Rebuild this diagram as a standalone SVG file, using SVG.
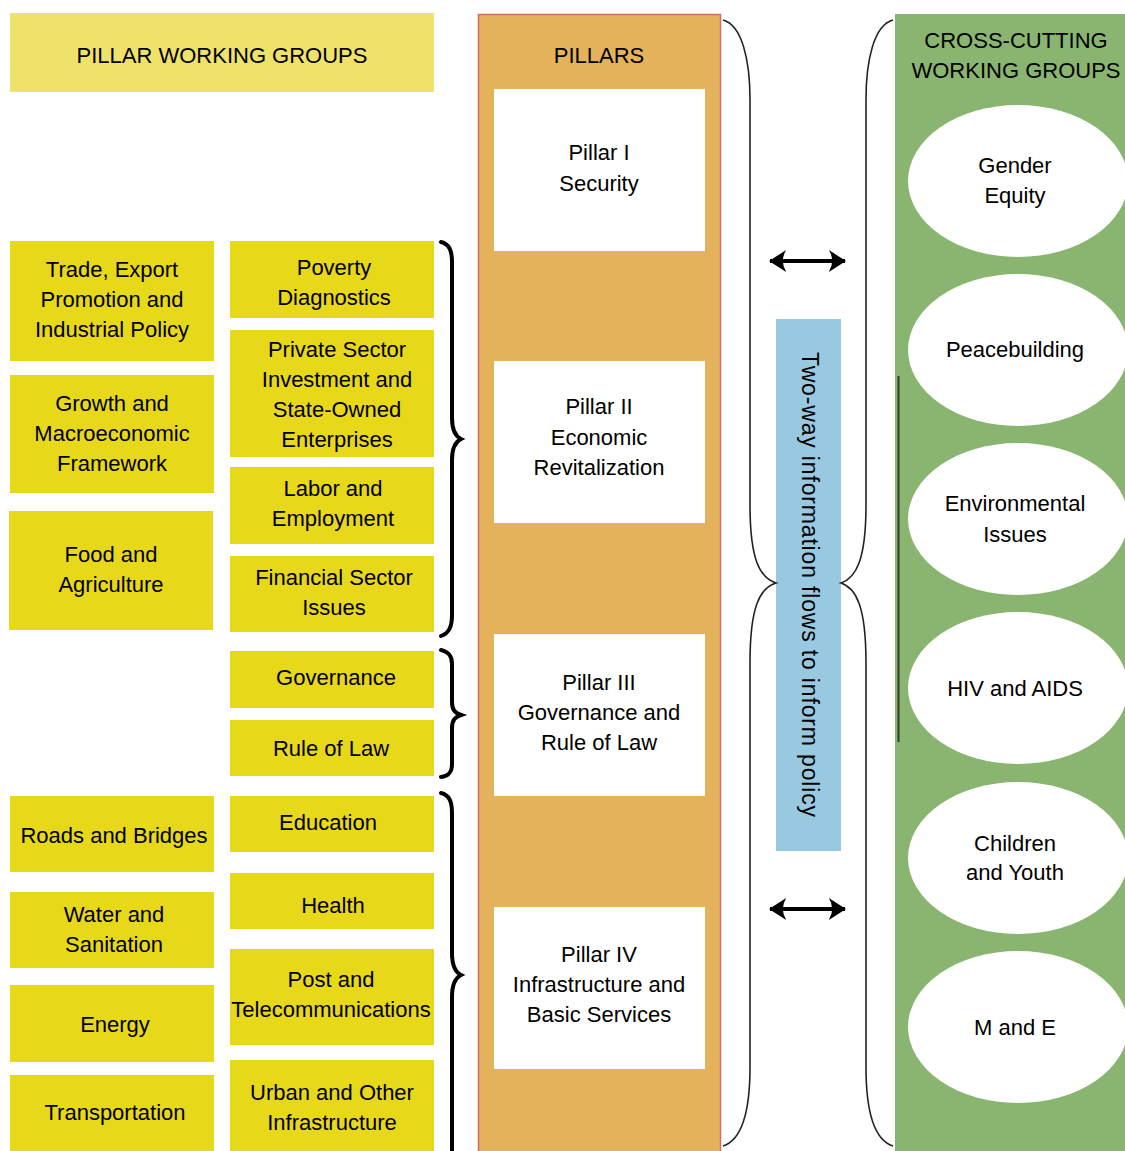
<svg xmlns="http://www.w3.org/2000/svg" width="1125" height="1151" viewBox="0 0 1125 1151">
<style>
text{font-family:"Liberation Sans",Arial,sans-serif;font-size:22px;fill:#000;text-anchor:middle}
.y{fill:#E8D81A}
.w{fill:#fff}
.br{fill:none;stroke:#000;stroke-width:4;stroke-linecap:round}
.tb{fill:none;stroke:#222;stroke-width:1.6}
.ar{fill:none;stroke:#000;stroke-width:4}
</style>
<defs>
<marker id="ah" viewBox="0 0 20 24" refX="19" refY="12" markerWidth="19" markerHeight="23" markerUnits="userSpaceOnUse" orient="auto-start-reverse">
<path d="M20,12 L2,0.5 Q9,12 2,23.5 Z" fill="#000"/>
</marker>
</defs>
<rect width="1125" height="1151" fill="#fff"/>

<g id="header-left"><rect x="10" y="13" width="424" height="79" fill="#EEE26A"/><text x="222" y="63">PILLAR WORKING GROUPS</text></g>

<g id="pillars-col"><rect x="478.5" y="14.5" width="242" height="1140" fill="#E3B25A" stroke="#D46A6A" stroke-width="1.5"/><text x="599" y="63">PILLARS</text></g>

<g id="cross-col"><rect x="895" y="14" width="230" height="1137" fill="#8AB570"/><text x="1016" y="48">CROSS-CUTTING</text><text x="1016" y="78">WORKING GROUPS</text></g>

<g id="trade"><rect class="y" x="10" y="241" width="204" height="120"/><text x="112" y="277">Trade, Export</text><text x="112" y="307">Promotion and</text><text x="112" y="337">Industrial Policy</text></g>
<g id="growth"><rect class="y" x="10" y="375" width="204" height="118"/><text x="112" y="411">Growth and</text><text x="112" y="441">Macroeconomic</text><text x="112" y="471">Framework</text></g>
<g id="food"><rect class="y" x="9" y="511" width="204" height="119"/><text x="111" y="562">Food and</text><text x="111" y="592">Agriculture</text></g>
<g id="roads"><rect class="y" x="10" y="796" width="204" height="76"/><text x="114" y="843">Roads and Bridges</text></g>
<g id="water"><rect class="y" x="10" y="892" width="204" height="76"/><text x="114" y="922">Water and</text><text x="114" y="952">Sanitation</text></g>
<g id="energy"><rect class="y" x="10" y="985" width="204" height="77"/><text x="115" y="1032">Energy</text></g>
<g id="transport"><rect class="y" x="10" y="1075" width="204" height="76"/><text x="115" y="1120">Transportation</text></g>

<g id="poverty"><rect class="y" x="230" y="241" width="204" height="77"/><text x="334" y="275">Poverty</text><text x="334" y="305">Diagnostics</text></g>
<g id="private"><rect class="y" x="230" y="330" width="204" height="127"/><text x="337" y="357">Private Sector</text><text x="337" y="387">Investment and</text><text x="337" y="417">State-Owned</text><text x="337" y="447">Enterprises</text></g>
<g id="labor"><rect class="y" x="230" y="467" width="204" height="77"/><text x="333" y="496">Labor and</text><text x="333" y="526">Employment</text></g>
<g id="financial"><rect class="y" x="230" y="556" width="204" height="76"/><text x="334" y="585">Financial Sector</text><text x="334" y="615">Issues</text></g>
<g id="governance"><rect class="y" x="230" y="651" width="204" height="57"/><text x="336" y="685">Governance</text></g>
<g id="rule"><rect class="y" x="230" y="720" width="204" height="56"/><text x="331" y="756">Rule of Law</text></g>
<g id="education"><rect class="y" x="230" y="796" width="204" height="56"/><text x="328" y="830">Education</text></g>
<g id="health"><rect class="y" x="230" y="873" width="204" height="56"/><text x="333" y="913">Health</text></g>
<g id="post"><rect class="y" x="230" y="949" width="204" height="96"/><text x="331" y="987">Post and</text><text x="331" y="1017">Telecommunications</text></g>
<g id="urban"><rect class="y" x="230" y="1060" width="204" height="91"/><text x="332" y="1100">Urban and Other</text><text x="332" y="1130">Infrastructure</text></g>

<g id="pillar1"><rect class="w" x="494" y="89" width="211" height="162"/><text x="599" y="160">Pillar I</text><text x="599" y="191">Security</text></g>
<g id="pillar2"><rect class="w" x="494" y="361" width="211" height="162"/><text x="599" y="414">Pillar II</text><text x="599" y="445">Economic</text><text x="599" y="475">Revitalization</text></g>
<g id="pillar3"><rect class="w" x="494" y="634" width="211" height="162"/><text x="599" y="690">Pillar III</text><text x="599" y="720">Governance and</text><text x="599" y="750">Rule of Law</text></g>
<g id="pillar4"><rect class="w" x="494" y="907" width="211" height="162"/><text x="599" y="962">Pillar IV</text><text x="599" y="992">Infrastructure and</text><text x="599" y="1022">Basic Services</text></g>

<g id="info-flow"><rect x="776" y="319" width="65" height="532" fill="#99C9E1"/><text transform="translate(802,584.5) rotate(90)" x="0" y="0" textLength="465" lengthAdjust="spacing" style="font-size:23px">Two-way information flows to inform policy</text></g>

<g id="gender"><ellipse class="w" cx="1018" cy="181" rx="110" ry="76"/><text x="1015" y="173">Gender</text><text x="1015" y="203">Equity</text></g>
<g id="peace"><ellipse class="w" cx="1018" cy="350" rx="110" ry="76"/><text x="1015" y="357">Peacebuilding</text></g>
<g id="env"><ellipse class="w" cx="1018" cy="519" rx="110" ry="76"/><text x="1015" y="511">Environmental</text><text x="1015" y="542">Issues</text></g>
<g id="hiv"><ellipse class="w" cx="1018" cy="688" rx="110" ry="76"/><text x="1015" y="696">HIV and AIDS</text></g>
<g id="children"><ellipse class="w" cx="1018" cy="858" rx="110" ry="76"/><text x="1015" y="851">Children</text><text x="1015" y="880">and Youth</text></g>
<g id="me"><ellipse class="w" cx="1018" cy="1027" rx="110" ry="76"/><text x="1015" y="1035">M and E</text></g>

<g id="connectors">
<path class="br" d="M441 242 C449 244 452 250 452 262 L452 418 C452 430 455 436 461 439 C455 442 452 448 452 460 L452 615 C452 627 449 633 441 636"/>
<path class="br" d="M441 650 C449 652 452 656 452 664 L452 702 C452 710 455 713 461 715 C455 717 452 720 452 728 L452 764 C452 772 449 776 441 777"/>
<path class="br" d="M441 793 C449 795 452 801 452 813 L452 953 C452 966 455 972 461 975 C455 978 452 984 452 997 L452 1151"/>
<path class="tb" d="M723 20 C742 25 750 60 750 100 L750 505 C750 560 760 578 776 583 C760 588 750 606 750 663 L750 1067 C750 1110 742 1140 723 1146"/>
<path class="tb" d="M893 20 C874 25 866 60 866 100 L866 505 C866 560 856 578 841 583 C856 588 866 606 866 663 L866 1067 C866 1110 874 1140 893 1146"/>
<line x1="898.5" y1="376" x2="898.5" y2="742" stroke="#2f3d28" stroke-width="2"/>
<line class="ar" x1="770" y1="261" x2="845" y2="261" marker-start="url(#ah)" marker-end="url(#ah)"/>
<line class="ar" x1="770" y1="909" x2="845" y2="909" marker-start="url(#ah)" marker-end="url(#ah)"/>
</g>
</svg>
